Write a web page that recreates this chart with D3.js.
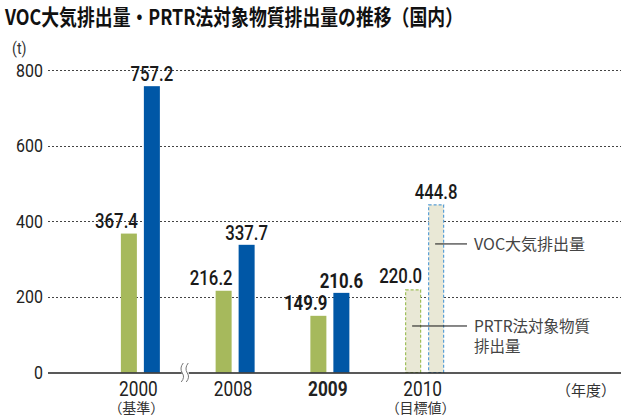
<!DOCTYPE html>
<html>
<head>
<meta charset="utf-8">
<script src="https://cdn.jsdelivr.net/npm/d3@7"></script>
<style>
  body { margin: 0; background: #fff; }
  svg text { font-family: "Roboto", "Liberation Sans", sans-serif; }
  svg text.jp { font-family: "Noto Sans CJK JP", sans-serif; }
</style>
</head>
<body>
<svg id="chart" width="621" height="416"></svg>
<script>
"use strict";

// data
var years = ["2000", "2008", "2009", "2010"];
var yearNotes = ["（基準）", "", "", "（目標値）"];
var prtrValues = [367.4, 216.2, 149.9, 220.0];
var vocValues = [757.2, 337.7, 210.6, 444.8];
var yTicks = [0, 200, 400, 600, 800];

(function(d3){
    var svg = d3.select("#chart");
    var narrow = 0.84;

    var x = d3.scaleBand().domain(years).range([93, 472]).paddingInner(0);
    var sub = d3.scaleBand().domain(["prtr", "voc"]).range([-19.5, 19.5]).paddingInner(0.304);
    var y = d3.scaleLinear().domain([0, 800]).range([372.5, 70]);

    var center = function(yr){ return x(yr) + x.bandwidth() / 2; };

    // condensed text helper
    function ntext(parent, px, py, str, size, anchor, weight, fill){
        return parent.append("g")
            .attr("transform", "translate(" + px + "," + py + ") scale(" + narrow + ",1)")
            .append("text")
            .attr("text-anchor", anchor)
            .attr("font-size", size)
            .attr("font-weight", weight)
            .attr("fill", fill)
            .text(str);
    }

    // title
    svg.append("text").attr("class", "jp")
        .attr("x", 5).attr("y", 25)
        .attr("font-size", 21.5).attr("font-weight", "bold").attr("fill", "#111")
        .attr("textLength", 458).attr("lengthAdjust", "spacingAndGlyphs")
        .text("VOC大気排出量・PRTR法対象物質排出量の推移（国内）");

    ntext(svg, 12, 54, "(t)", 17, "start", "normal", "#333");

    // grid
    var grid = svg.append("g");
    grid.selectAll("line")
        .data(yTicks.filter(function(t){ return t > 0; }))
        .enter().append("line")
        .attr("x1", 48).attr("x2", 621)
        .attr("y1", function(t){ return Math.round(y(t)) + 0.5; })
        .attr("y2", function(t){ return Math.round(y(t)) + 0.5; })
        .attr("stroke", "#444").attr("stroke-width", 1)
        .attr("stroke-dasharray", "2,2");

    // y axis labels
    var yAxis = d3.axisLeft(y).tickValues(yTicks).tickSize(0).tickPadding(0);
    var ga = svg.append("g").attr("transform", "translate(43,0)").call(yAxis);
    ga.select(".domain").remove();
    ga.selectAll("text")
        .attr("font-size", 19).attr("fill", "#222")
        .attr("transform", "scale(" + narrow + ",1)")
        .style("font-family", "Roboto, sans-serif");

    // bars (actual years)
    var actual = years.slice(0, 3);
    var bars = svg.append("g");
    bars.selectAll("rect.prtr")
        .data(actual).enter().append("rect")
        .attr("x", function(yr){ return center(yr) + sub("prtr"); })
        .attr("width", sub.bandwidth())
        .attr("y", function(yr, i){ return y(prtrValues[i]); })
        .attr("height", function(yr, i){ return y(0) - y(prtrValues[i]); })
        .attr("fill", "#a6b95c");
    bars.selectAll("rect.voc")
        .data(actual).enter().append("rect")
        .attr("x", function(yr){ return center(yr) + sub("voc"); })
        .attr("width", sub.bandwidth())
        .attr("y", function(yr, i){ return y(vocValues[i]); })
        .attr("height", function(yr, i){ return y(0) - y(vocValues[i]); })
        .attr("fill", "#0057a6");

    // target bars (2010)
    var ty = years[3];
    bars.append("rect")
        .attr("x", center(ty) + sub("prtr") + 0.5)
        .attr("width", sub.bandwidth() - 1)
        .attr("y", y(prtrValues[3]) + 0.5)
        .attr("height", y(0) - y(prtrValues[3]) - 0.5)
        .attr("fill", "#e9e8d6").attr("stroke", "#9fc05a")
        .attr("stroke-width", 1.2).attr("stroke-dasharray", "3,2");
    bars.append("rect")
        .attr("x", center(ty) + sub("voc") + 0.5)
        .attr("width", sub.bandwidth() - 1)
        .attr("y", y(vocValues[3]) + 0.5)
        .attr("height", y(0) - y(vocValues[3]) - 0.5)
        .attr("fill", "#e9e8d6").attr("stroke", "#5a9fd6")
        .attr("stroke-width", 1.2).attr("stroke-dasharray", "3,2");

    // value labels
    var labels = svg.append("g");
    years.forEach(function(yr, i){
        var w = yr === "2009" ? "bold" : 500;
        ntext(labels, center(yr) + sub("prtr") + sub.bandwidth() + 1, y(prtrValues[i]) - 6,
            prtrValues[i].toFixed(1), 20, "end", w, "#1a1a1a");
        ntext(labels, center(yr) + sub("voc") + sub.bandwidth() / 2, y(vocValues[i]) - 5,
            vocValues[i].toFixed(1), 20, "middle", w, "#1a1a1a");
    });

    // baseline
    svg.append("line")
        .attr("x1", 48).attr("x2", 621)
        .attr("y1", y(0) + 0.5).attr("y2", y(0) + 0.5)
        .attr("stroke", "#222").attr("stroke-width", 1.3);

    // axis break
    var bx = (center("2000") + center("2008")) / 2 - 3;
    var brk = svg.append("g").attr("transform", "translate(" + bx + "," + (y(0) + 0.5) + ")");
    brk.append("rect").attr("x", -3).attr("y", -2).attr("width", 7).attr("height", 4).attr("fill", "#fff");
    [-2.5, 2.5].forEach(function(dx){
        brk.append("path")
            .attr("d", "M" + (dx + 1) + ",-10 Q" + (dx - 3) + ",-5 " + dx + ",0 Q" + (dx + 3) + ",4 " + (dx - 1) + ",9")
            .attr("fill", "none").attr("stroke", "#777").attr("stroke-width", 1);
    });

    // x labels
    var xl = svg.append("g");
    years.forEach(function(yr, i){
        ntext(xl, center(yr) - 2, 396, yr, 20.5, "middle",
            yr === "2009" ? "bold" : "normal", "#222");
        if (yearNotes[i]) {
            xl.append("text").attr("class", "jp")
                .attr("x", center(yr) - 4).attr("y", 412.5)
                .attr("text-anchor", "middle")
                .attr("font-size", 14).attr("fill", "#333")
                .text(yearNotes[i]);
        }
    });
    xl.append("text").attr("class", "jp")
        .attr("x", 616).attr("y", 396)
        .attr("text-anchor", "end")
        .attr("font-size", 15).attr("fill", "#333")
        .text("（年度）");

    // legend callouts
    var lg = svg.append("g");
    var lx = 467, tx = 474;
    var vy = y(340);
    lg.append("line")
        .attr("x1", center(ty) + sub("voc") + 7).attr("x2", lx)
        .attr("y1", vy).attr("y2", vy)
        .attr("stroke", "#111").attr("stroke-width", 1);
    lg.append("text").attr("class", "jp")
        .attr("x", tx).attr("y", vy + 6)
        .attr("font-size", 16).attr("fill", "#444")
        .text("VOC大気排出量");
    var py = y(123);
    lg.append("line")
        .attr("x1", center(ty) + sub("prtr") + 7).attr("x2", lx)
        .attr("y1", py).attr("y2", py)
        .attr("stroke", "#111").attr("stroke-width", 1);
    lg.append("text").attr("class", "jp")
        .attr("x", tx).attr("y", py + 6)
        .attr("font-size", 15.5).attr("fill", "#444")
        .text("PRTR法対象物質");
    lg.append("text").attr("class", "jp")
        .attr("x", tx).attr("y", py + 26)
        .attr("font-size", 15.5).attr("fill", "#444")
        .text("排出量");
})(d3);
</script>
</body>
</html>
